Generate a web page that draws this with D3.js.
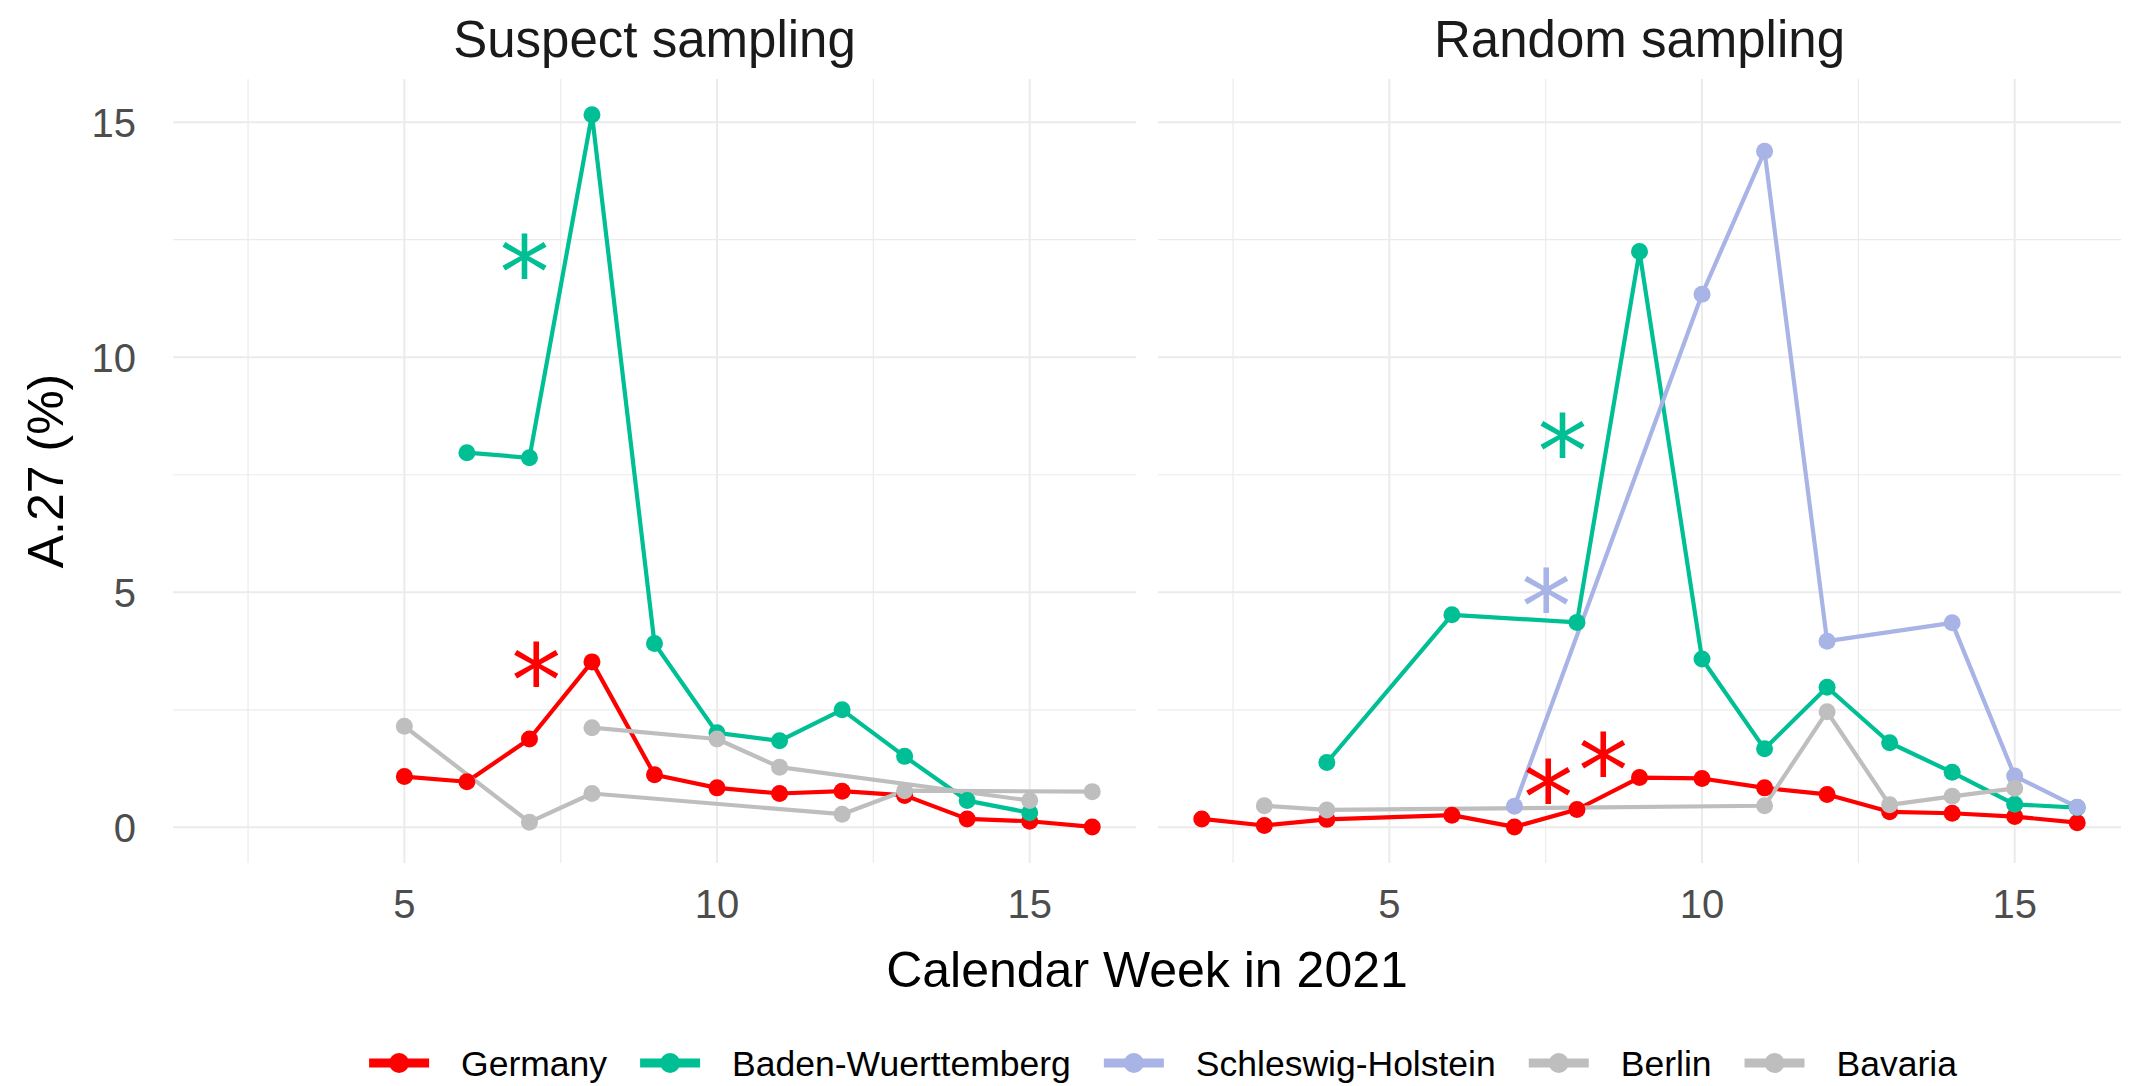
<!DOCTYPE html>
<html lang="en">
<head>
<meta charset="UTF-8">
<title>A.27 share by calendar week</title>
<script src="https://d3js.org/d3.v7.min.js"></script>
<style>
  body { margin: 0; background: #fff; overflow: hidden; }
  svg { display: block; font-family: "Liberation Sans", Arial, sans-serif; }
  .grid-major { stroke: #ebebeb; stroke-width: 2; }
  .grid-minor { stroke: #ebebeb; stroke-width: 1.2; }
  .tick-label { fill: #4d4d4d; font-size: 40px; }
  .strip { fill: #1a1a1a; font-size: 51px; }
  .axis-title { fill: #000; font-size: 50px; }
  .legend-text { fill: #000; font-size: 35.5px; }
  .series-line { fill: none; stroke-width: 4.2; stroke-linejoin: round; }
  .star { font-family: "DejaVu Sans", sans-serif; font-size: 100px; }
</style>
</head>
<body>
<script>
// states & colours
const states = ["Germany", "Baden-Wuerttemberg", "Schleswig-Holstein", "Berlin", "Bavaria"];
const stateColors = ["#ff0000", "#00bf95", "#a8b3e6", "#bebebe", "#bebebe"];

const panelKeys = ["suspect", "random"];
const panelTitles = ["Suspect sampling", "Random sampling"];

const xTicks = [5, 10, 15];
const yTicks = [0, 5, 10, 15];

// suspect sampling
const germanySuspectWeeks = [5, 6, 7, 8, 9, 10, 11, 12, 13, 14, 15, 16];
const germanySuspect = [1.08, 0.97, 1.88, 3.52, 1.12, 0.84, 0.72, 0.77, 0.68, 0.18, 0.13, 0.01];
const bwSuspectWeeks = [6, 7, 8, 9, 10, 11, 12, 13, 14, 15];
const bwSuspect = [7.97, 7.86, 15.16, 3.91, 2.01, 1.84, 2.50, 1.51, 0.57, 0.31];
const berlinSuspectWeeks = [5, 7, 8, 12, 13, 16];
const berlinSuspect = [2.15, 0.11, 0.72, 0.28, 0.78, 0.76];
const bavariaSuspectWeeks = [8, 10, 11, 15];
const bavariaSuspect = [2.12, 1.88, 1.28, 0.57];

// random sampling
const germanyRandomWeeks = [2, 3, 4, 6, 7, 8, 9, 10, 11, 12, 13, 14, 15, 16];
const germanyRandom = [0.18, 0.04, 0.17, 0.26, 0.01, 0.38, 1.06, 1.04, 0.84, 0.70, 0.33, 0.30, 0.23, 0.10];
const bwRandomWeeks = [4, 6, 8, 9, 10, 11, 12, 13, 14, 15, 16];
const bwRandom = [1.38, 4.52, 4.36, 12.25, 3.58, 1.67, 2.98, 1.80, 1.17, 0.49, 0.42];
const shRandomWeeks = [7, 10, 11, 12, 14, 15, 16];
const shRandom = [0.45, 11.34, 14.38, 3.96, 4.35, 1.09, 0.43];
const berlinRandomWeeks = [3, 4, 11, 12, 13, 14, 15];
const berlinRandom = [0.46, 0.37, 0.46, 2.46, 0.48, 0.66, 0.83];

// significance stars (glyph centre in data units)
const starPanels = ["suspect", "suspect", "random", "random", "random", "random"];
const starStates = ["Baden-Wuerttemberg", "Germany", "Baden-Wuerttemberg", "Schleswig-Holstein", "Germany", "Germany"];
const starWeeks = [6.92, 7.11, 7.77, 7.51, 7.54, 8.42];
const starValues = [12.17, 3.5, 8.36, 5.07, 1.0, 1.58];

const series = [
  { panel: "suspect", state: "Germany", weeks: germanySuspectWeeks, values: germanySuspect },
  { panel: "suspect", state: "Baden-Wuerttemberg", weeks: bwSuspectWeeks, values: bwSuspect },
  { panel: "suspect", state: "Berlin", weeks: berlinSuspectWeeks, values: berlinSuspect },
  { panel: "suspect", state: "Bavaria", weeks: bavariaSuspectWeeks, values: bavariaSuspect },
  { panel: "random", state: "Germany", weeks: germanyRandomWeeks, values: germanyRandom },
  { panel: "random", state: "Baden-Wuerttemberg", weeks: bwRandomWeeks, values: bwRandom },
  { panel: "random", state: "Schleswig-Holstein", weeks: shRandomWeeks, values: shRandom },
  { panel: "random", state: "Berlin", weeks: berlinRandomWeeks, values: berlinRandom }
];

const width = 2144, height = 1086;
const margin = { left: 173, right: 23, top: 79, bottom: 223 };
const panelGap = 22;
const panelW = (width - margin.left - margin.right - panelGap) / 2;

const color = d3.scaleOrdinal().domain(states).range(stateColors);

const svg = d3.select("body").append("svg")
  .attr("width", width)
  .attr("height", height);

// shared scales, ggplot style 5% expansion
const allWeeks = series.flatMap(s => s.weeks);
const allValues = series.flatMap(s => s.values);
const [wMin, wMax] = d3.extent(allWeeks);
const vMax = d3.max(allValues);
const xPad = (wMax - wMin) * 0.05, yPad = (vMax - 0) * 0.05;

const y = d3.scaleLinear()
  .domain([0 - yPad, vMax + yPad])
  .range([height - margin.bottom, margin.top]);

const xScales = {};
panelKeys.forEach((key, i) => {
  const x0 = margin.left + i * (panelW + panelGap);
  xScales[key] = d3.scaleLinear().domain([wMin - xPad, wMax + xPad]).range([x0, x0 + panelW]);
});

const line = d3.line().x(d => d.x).y(d => d.y);

panelKeys.forEach((key, i) => {
  const x = xScales[key];
  const g = svg.append("g").attr("class", "panel-" + key);
  const [px0, px1] = x.range();
  const [py1, py0] = y.range();

  // minor grid
  const xMinor = d3.range(2.5, 16.7, 5);
  const yMinor = d3.range(2.5, 16, 5);
  g.selectAll(".vminor").data(xMinor).join("line").attr("class", "grid-minor")
    .attr("x1", d => x(d)).attr("x2", d => x(d)).attr("y1", py0).attr("y2", py1);
  g.selectAll(".hminor").data(yMinor).join("line").attr("class", "grid-minor")
    .attr("x1", px0).attr("x2", px1).attr("y1", d => y(d)).attr("y2", d => y(d));
  // major grid
  g.selectAll(".vmajor").data(xTicks).join("line").attr("class", "grid-major")
    .attr("x1", d => x(d)).attr("x2", d => x(d)).attr("y1", py0).attr("y2", py1);
  g.selectAll(".hmajor").data(yTicks).join("line").attr("class", "grid-major")
    .attr("x1", px0).attr("x2", px1).attr("y1", d => y(d)).attr("y2", d => y(d));

  // x tick labels
  g.selectAll(".xt").data(xTicks).join("text").attr("class", "tick-label")
    .attr("x", d => x(d)).attr("y", 918).attr("text-anchor", "middle").text(d => d);

  // strip title
  g.append("text").attr("class", "strip")
    .attr("x", (px0 + px1) / 2).attr("y", 57).attr("text-anchor", "middle")
    .text(panelTitles[i]);

  const ps = series.filter(s => s.panel === key);
  // lines first, then points (same as geom_line + geom_point)
  ps.forEach(s => {
    const pts = s.weeks.map((w, j) => ({ x: x(w), y: y(s.values[j]) }));
    g.append("path").attr("class", "series-line")
      .attr("stroke", color(s.state)).attr("d", line(pts));
  });
  ps.forEach(s => {
    g.append("g").selectAll("circle")
      .data(s.weeks.map((w, j) => ({ w, v: s.values[j] })))
      .join("circle")
      .attr("cx", d => x(d.w)).attr("cy", d => y(d.v)).attr("r", 8.5)
      .attr("fill", color(s.state));
  });

  // stars
  starPanels.forEach((p, j) => {
    if (p !== key) return;
    g.append("text").attr("class", "star")
      .attr("x", x(starWeeks[j])).attr("y", y(starValues[j]))
      .attr("dy", "0.53em").attr("text-anchor", "middle")
      .attr("fill", color(starStates[j]))
      .text("*");
  });
});

// y tick labels (left panel only)
svg.selectAll(".yt").data(yTicks).join("text").attr("class", "tick-label")
  .attr("x", 136).attr("y", d => y(d)).attr("dy", "0.36em").attr("text-anchor", "end")
  .text(d => d);

// axis titles
const plotMidX = (margin.left + width - margin.right) / 2;
svg.append("text").attr("class", "axis-title")
  .attr("x", plotMidX).attr("y", 987).attr("text-anchor", "middle")
  .text("Calendar Week in 2021");
svg.append("text").attr("class", "axis-title")
  .attr("transform", `translate(63,${(y.range()[0] + y.range()[1]) / 2}) rotate(-90)`)
  .attr("text-anchor", "middle")
  .text("A.27 (%)");

// legend
const legend = svg.append("g").attr("class", "legend");
const keyW = 60, keyGap = 32, itemGap = 33, legendY = 1063;
let cursor = 0;
states.forEach(st => {
  const item = legend.append("g").attr("transform", `translate(${cursor},0)`);
  item.append("line").attr("x1", 0).attr("x2", keyW).attr("y1", legendY).attr("y2", legendY)
    .attr("stroke", color(st)).attr("stroke-width", 9);
  item.append("circle").attr("cx", keyW / 2).attr("cy", legendY).attr("r", 10).attr("fill", color(st));
  const t = item.append("text").attr("class", "legend-text")
    .attr("x", keyW + keyGap).attr("y", legendY).attr("dy", "0.36em").text(st);
  cursor += keyW + keyGap + t.node().getComputedTextLength() + itemGap;
});
cursor -= itemGap;
legend.attr("transform", `translate(${1163 - cursor / 2},0)`);
</script>
</body>
</html>
